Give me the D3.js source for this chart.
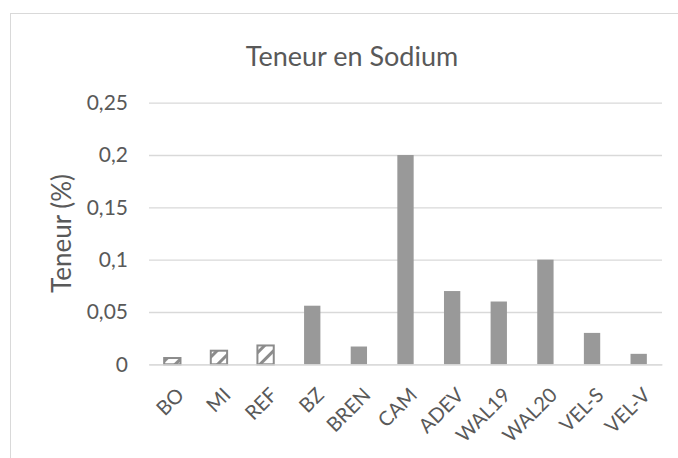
<!DOCTYPE html>
<html>
<head>
<meta charset="utf-8">
<script src="https://cdn.jsdelivr.net/npm/d3@7"></script>
<style>
  body { margin: 0; background: #fff; }
  text { font-family: Lato, "Open Sans", sans-serif; fill: #595959; }
</style>
</head>
<body>
<div class="chart"></div>
<script>
// data
const categories = ["BO", "MI", "REF", "BZ", "BREN", "CAM", "ADEV", "WAL19", "WAL20", "VEL-S", "VEL-V"];
const values = [0.006, 0.013, 0.018, 0.056, 0.017, 0.2, 0.07, 0.06, 0.1, 0.03, 0.01];
const hatched = ["BO", "MI", "REF"];
const yTicks = [0, 0.05, 0.1, 0.15, 0.2, 0.25];

const width = 678, height = 458;
const plot = { left: 149, right: 662, top: 102.7, bottom: 364.3 };

const svg = d3.select(".chart").append("svg")
    .attr("width", width)
    .attr("height", height);

// outer chart border (runs off the right and bottom of the frame)
svg.append("rect")
    .attr("x", 10.5)
    .attr("y", 13.5)
    .attr("width", 720)
    .attr("height", 500)
    .attr("fill", "#fff")
    .attr("stroke", "#d9d9d9");

// hatch pattern for the first three bars
const defs = svg.append("defs");
const pat = defs.append("pattern")
    .attr("id", "hatch")
    .attr("patternUnits", "userSpaceOnUse")
    .attr("width", 10)
    .attr("height", 10)
    .attr("patternTransform", "rotate(45)");
pat.append("rect").attr("width", 10).attr("height", 10).attr("fill", "#fff");
pat.append("rect").attr("x", 0).attr("width", 3).attr("height", 10).attr("fill", "#8c8c8c");

const xScale = d3.scaleBand()
    .domain(categories)
    .range([plot.left, plot.right])
    .paddingInner(0.65)
    .paddingOuter(0.325);

const yScale = d3.scaleLinear()
    .domain([0, 0.25])
    .range([plot.bottom, plot.top]);

const fmt = d => String(d).replace(".", ",");

// gridlines + y labels
const yAxis = d3.axisLeft(yScale)
    .tickValues(yTicks)
    .tickSize(-(plot.right - plot.left))
    .tickPadding(21)
    .tickFormat(fmt);

svg.append("g")
    .attr("class", "axis y-axis")
    .attr("transform", `translate(${plot.left},0)`)
    .call(yAxis)
    .call(g => g.select(".domain").remove())
    .call(g => g.selectAll("line").attr("stroke", "#d9d9d9").attr("stroke-width", 1.3))
    .call(g => g.selectAll("text").style("font-size", "21px").attr("fill", "#595959"));

// bars
svg.append("g")
    .selectAll("rect")
    .data(categories)
    .join("rect")
    .attr("x", d => xScale(d))
    .attr("y", (d, i) => yScale(values[i]))
    .attr("width", xScale.bandwidth())
    .attr("height", (d, i) => yScale(0) - yScale(values[i]))
    .attr("fill", d => hatched.includes(d) ? "url(#hatch)" : "#999999")
    .attr("stroke", d => hatched.includes(d) ? "#8c8c8c" : "none")
    .attr("stroke-width", 2);

// x labels
const xAxis = d3.axisBottom(xScale).tickSize(0).tickPadding(0);
svg.append("g")
    .attr("class", "axis x-axis")
    .attr("transform", `translate(0,${plot.bottom})`)
    .call(xAxis)
    .call(g => g.select(".domain").attr("stroke", "#d9d9d9").attr("stroke-width", 1.3))
    .call(g => g.selectAll("text")
        .style("font-size", "20px")
        .attr("fill", "#595959")
        .attr("text-anchor", "end")
        .attr("y", 0)
        .attr("dy", 0)
        .attr("transform", "translate(13,32) rotate(-45)"));

// title
svg.append("text")
    .attr("x", 352)
    .attr("y", 66)
    .attr("text-anchor", "middle")
    .style("font-size", "27px")
    .text("Teneur en Sodium");

// y axis title
svg.append("text")
    .attr("transform", `translate(71,${(plot.top + plot.bottom) / 2}) rotate(-90)`)
    .attr("text-anchor", "middle")
    .style("font-size", "26px")
    .text("Teneur (%)");
</script>
</body>
</html>
